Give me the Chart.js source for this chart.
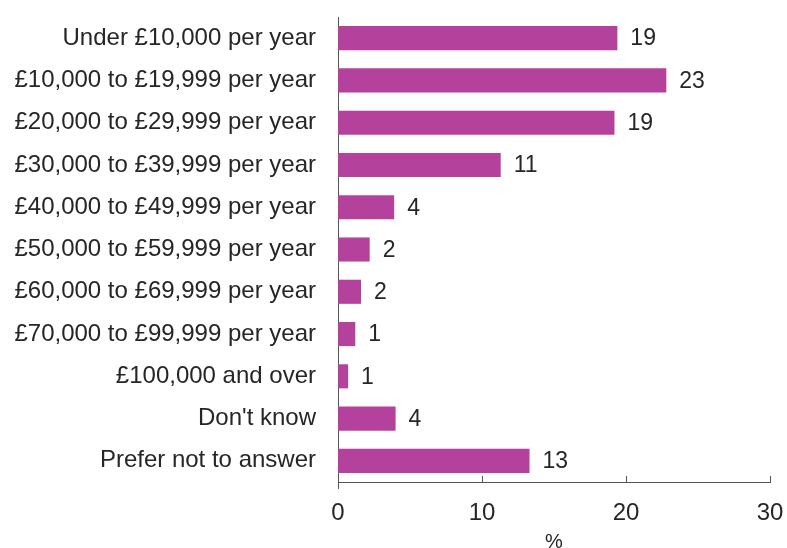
<!DOCTYPE html>
<html>
<head>
<meta charset="utf-8">
<script src="https://cdn.jsdelivr.net/npm/chart.js@4/dist/chart.umd.min.js"></script>
<style>
  html, body { margin: 0; padding: 0; background: #fff; }
  #wrap { width: 787px; height: 548px; }
</style>
</head>
<body>
<div id="wrap"><canvas id="incomeChart" width="787" height="548"></canvas></div>
<script>
// household income bands, top to bottom
const bands = [
    'Under £10,000 per year',
    '£10,000 to £19,999 per year',
    '£20,000 to £29,999 per year',
    '£30,000 to £39,999 per year',
    '£40,000 to £49,999 per year',
    '£50,000 to £59,999 per year',
    '£60,000 to £69,999 per year',
    '£70,000 to £99,999 per year',
    '£100,000 and over',
    "Don't know",
    'Prefer not to answer'
];
// share of respondents, %
const shares = [19.4, 22.8, 19.2, 11.3, 3.9, 2.2, 1.6, 1.2, 0.7, 4.0, 13.3];
const xTicks = [0, 10, 20, 30];

const barColour = '#b4429c';
const textColour = '#262626';
const axisColour = '#555555';
const fontFamily = '"Liberation Sans", Arial, sans-serif';

// value labels to the right of each bar, plus short inward tick marks on the x axis
const extras = {
    id: 'extras',
    afterDatasetsDraw(chart) {
        const ctx = chart.ctx;
        const meta = chart.getDatasetMeta(0);
        ctx.save();
        ctx.fillStyle = textColour;
        ctx.font = '23px ' + fontFamily;
        ctx.textAlign = 'left';
        ctx.textBaseline = 'middle';
        meta.data.forEach((bar, i) => {
            ctx.fillText(String(Math.round(shares[i])), bar.x + 13, bar.y + 1);
        });
        const xs = chart.scales.x;
        ctx.strokeStyle = axisColour;
        ctx.lineWidth = 1;
        xTicks.forEach(v => {
            const px = Math.round(xs.getPixelForValue(v)) + 0.5;
            ctx.beginPath();
            ctx.moveTo(px, xs.top);
            ctx.lineTo(px, xs.top - 6);
            ctx.stroke();
        });
        // y axis runs a little past the x axis
        const px0 = Math.round(xs.getPixelForValue(0)) + 0.5;
        ctx.beginPath();
        ctx.moveTo(px0, xs.top);
        ctx.lineTo(px0, xs.top + 7);
        ctx.stroke();
        ctx.restore();
    }
};

new Chart(document.getElementById('incomeChart').getContext('2d'), {
    type: 'bar',
    data: {
        labels: bands,
        datasets: [{
            data: shares,
            backgroundColor: barColour,
            borderWidth: 0,
            categoryPercentage: 1,
            barPercentage: 0.57
        }]
    },
    options: {
        indexAxis: 'y',
        responsive: false,
        animation: false,
        layout: { padding: { top: 17, right: 17, left: 0, bottom: 0 } },
        plugins: {
            legend: { display: false },
            tooltip: { enabled: false }
        },
        scales: {
            x: {
                min: 0,
                max: 30,
                afterBuildTicks: scale => {
                    scale.ticks = xTicks.map(v => ({ value: v }));
                },
                afterFit: scale => {
                    scale.height = 66;
                    scale.paddingLeft = 0;
                    scale.paddingRight = 0;
                },
                grid: { display: false, drawTicks: false },
                border: { display: true, color: axisColour, width: 1 },
                ticks: {
                    color: textColour,
                    padding: 17,
                    font: { family: fontFamily, size: 24 }
                },
                title: {
                    display: true,
                    text: '%',
                    color: textColour,
                    padding: { top: 0, bottom: -6 },
                    font: { family: fontFamily, size: 20 }
                }
            },
            y: {
                afterFit: scale => {
                    scale.width = 338;
                    scale.paddingTop = 0;
                    scale.paddingBottom = 0;
                },
                grid: { display: false, drawTicks: false },
                border: { display: true, color: axisColour, width: 1 },
                ticks: {
                    color: textColour,
                    padding: 22,
                    font: { family: fontFamily, size: 24 }
                }
            }
        }
    },
    plugins: [extras]
});
</script>
</body>
</html>
